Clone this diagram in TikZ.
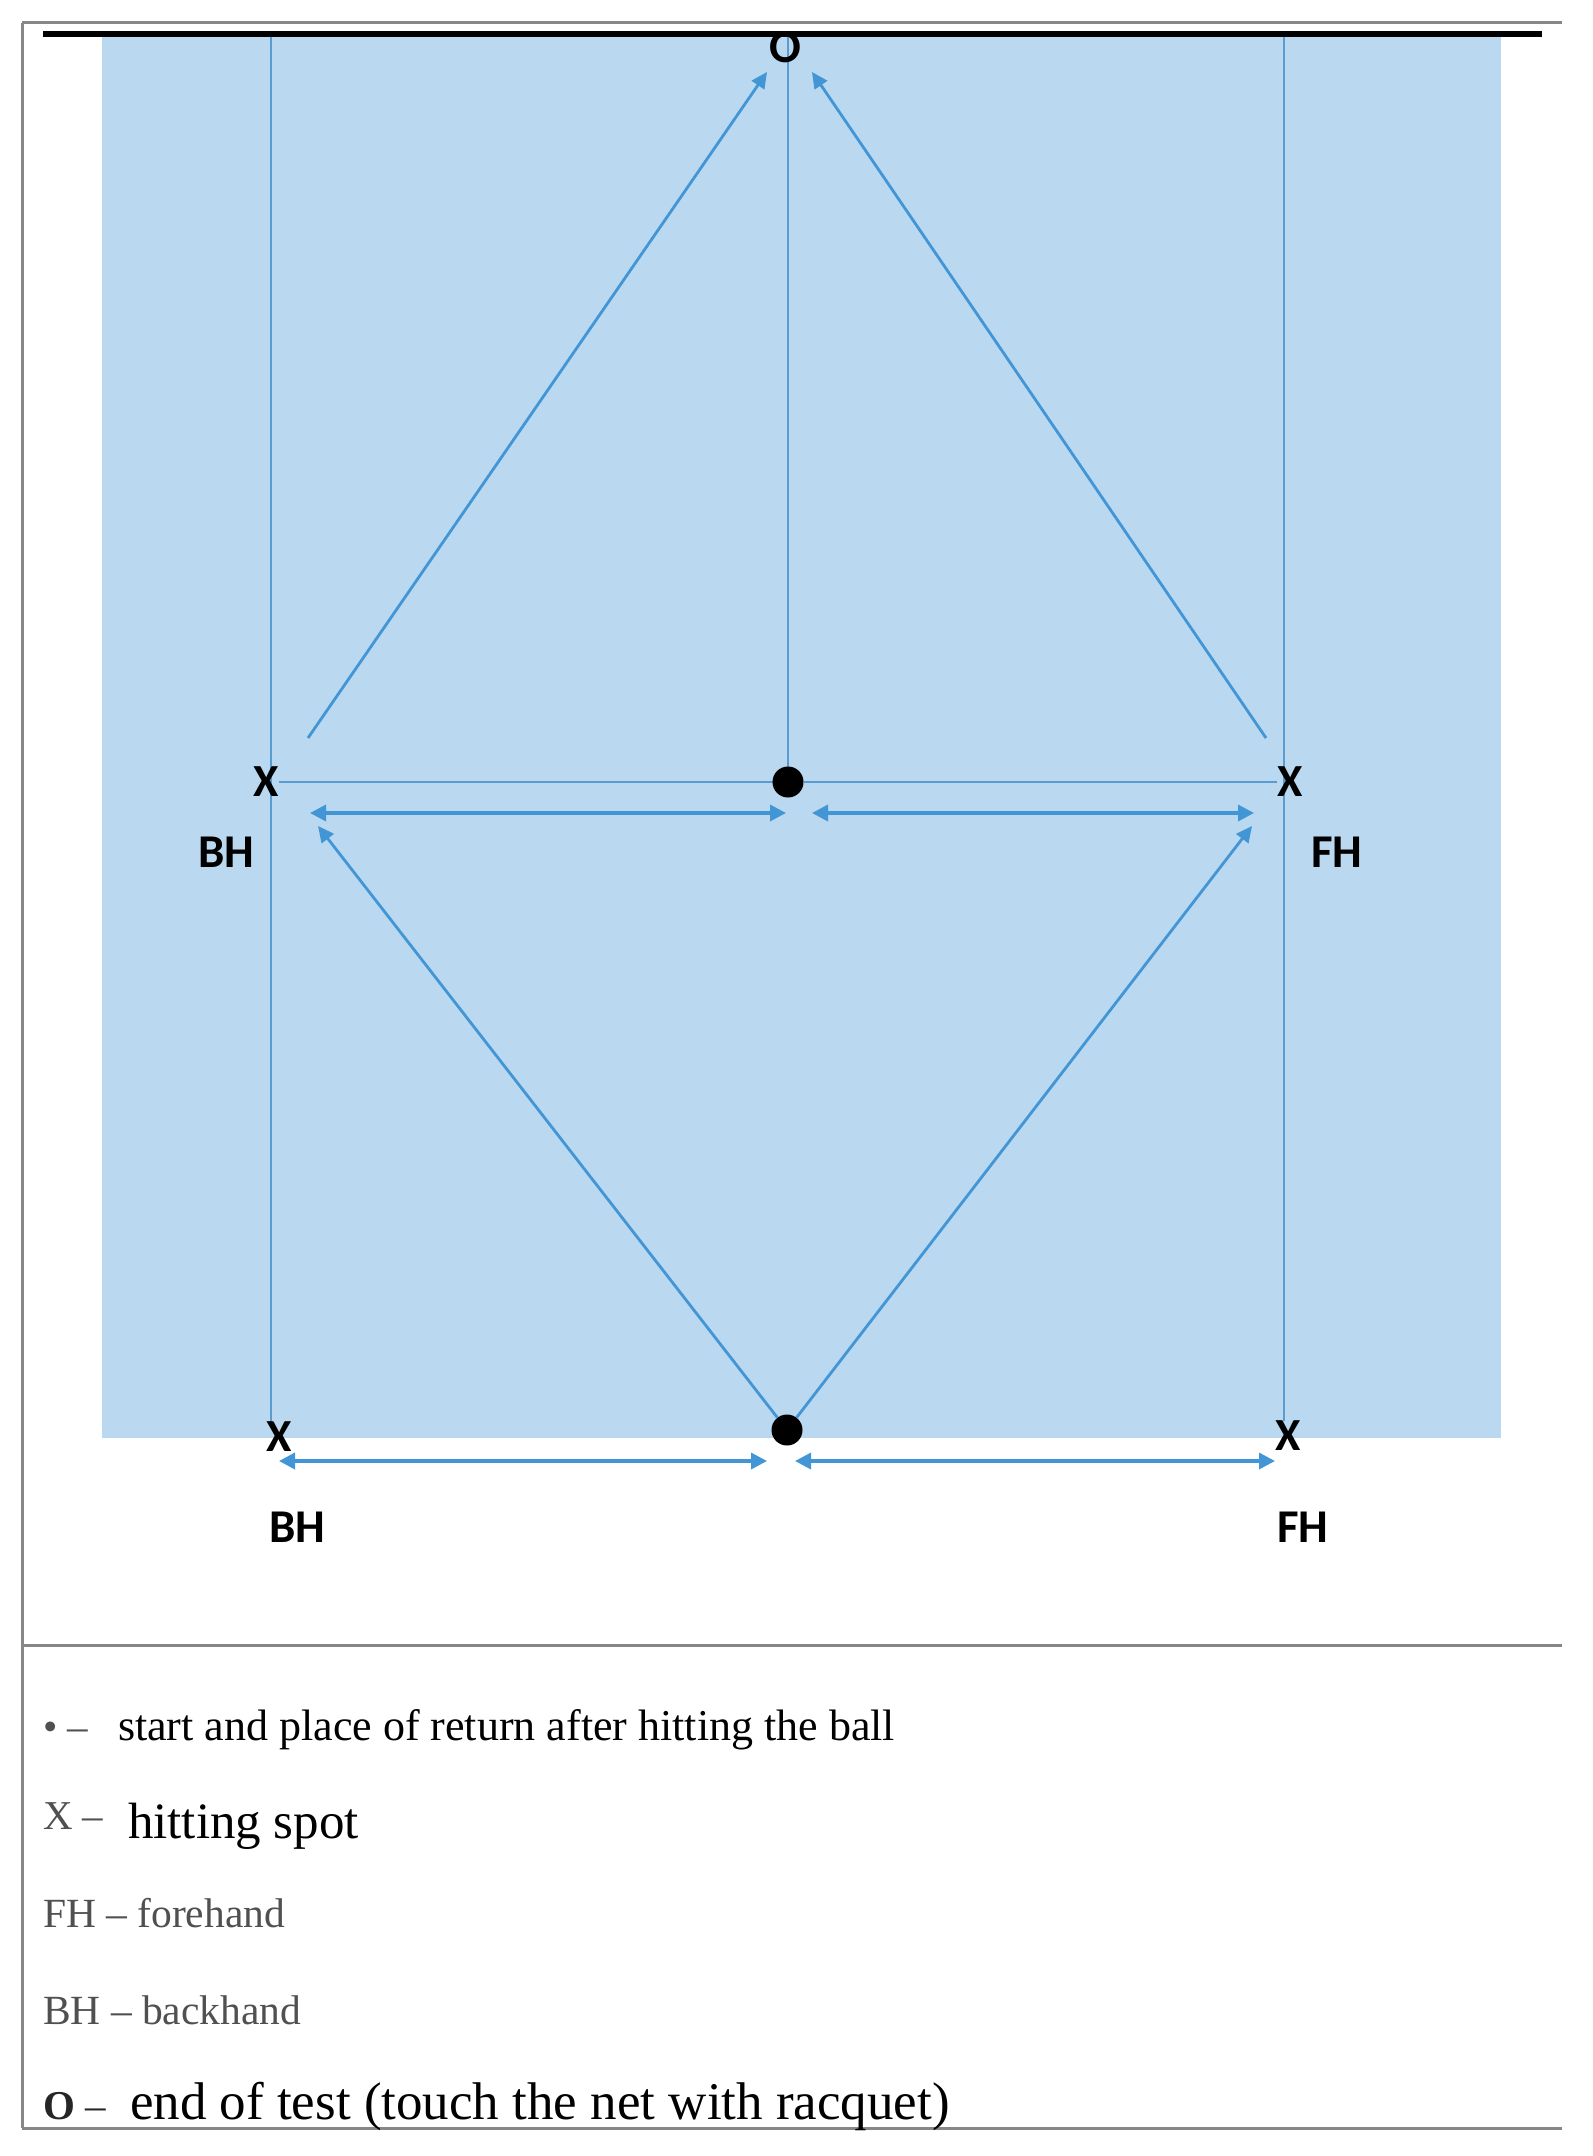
\documentclass[tikz,border=0pt]{standalone}
\usepackage{fontspec}
\setmainfont{Liberation Serif}
\newfontfamily\labelfont{Carlito}
\usetikzlibrary{arrows.meta,positioning,backgrounds}
\definecolor{courtblue}{RGB}{186,216,240}
\definecolor{lineblue}{RGB}{88,156,210}
\definecolor{arrowblue}{RGB}{66,150,214}
\definecolor{framegray}{RGB}{135,135,135}
\definecolor{keygray}{RGB}{80,80,80}

\begin{document}
\begin{tikzpicture}[
    x=0.5pt, y=-0.5pt,
    every node/.style={
        inner sep=0pt, outer sep=0pt,
    },
    lbl/.style={font=\labelfont\bfseries\fontsize{23.5}{28}\selectfont},
    spot/.style={font=\labelfont\bfseries\fontsize{23}{28}\selectfont},
    ball/.style={circle, fill=black, minimum size=15.5pt},
    courtline/.style={draw=lineblue, line width=1.3pt},
    shot/.style={draw=arrowblue, line width=1.4pt, -{Triangle[length=8pt,width=7.5pt]}},
    runs/.style={draw=arrowblue, line width=1.7pt, {Triangle[length=8pt,width=8pt]}-{Triangle[length=8pt,width=8pt]}},
    rule/.style={draw=framegray, line width=1.5pt},
    key/.style={anchor=base west, text=keygray, font=\fontsize{20.5}{24}\selectfont},
    entry/.style={anchor=base west},
]
    \useasboundingbox (0,0) rectangle (1593,2156);

    % frame
    \draw[rule] (22,23) -- (1562,23);
    \draw[rule] (22,23) -- (22,2128);
    \draw[rule] (22,1645) -- (1562,1645);
    \draw[rule] (22,2128) -- (1562,2128);

    % players' spots
    \node[lbl] (endo) at (785,47) {O};
    \node[ball] (dm) at (788,782) {};
    \node[ball] (db) at (787,1430) {};
    \node[spot] (xml) at (266,782) {X};
    \node[spot] (xmr) at (1290,782) {X};
    \node[spot] (xbl) at (279,1437) {X};
    \node[spot] (xbr) at (1288,1436) {X};
    \node[lbl] (bhm) at (226,852) {BH};
    \node[lbl] (fhm) at (1337,852) {FH};
    \node[lbl] (bhb) at (297,1527) {BH};
    \node[lbl] (fhb) at (1303,1527) {FH};

    \coordinate (netl) at (271,37);
    \coordinate (netr) at (1284,37);
    \coordinate (netc) at (788,37);
    \coordinate (ul) at (308,738);
    \coordinate (ult) at (767,72);
    \coordinate (ur) at (1266,738);
    \coordinate (urt) at (812,72);
    \coordinate (ll) at (318,826);
    \coordinate (lr) at (1252,826);

    \begin{scope}[on background layer]
        \fill[white] (0,0) rectangle (1593,2156);
        \fill[courtblue] (102,37) rectangle (1501,1438);
        \draw[courtline] (netl) -- (netl |- xbl.north);
        \draw[courtline] (netr) -- (netr |- xbr.north);
        \draw[courtline] (netc) -- (dm);
        \draw[courtline] (xml.east) -- (dm) -- (xmr.west);
    \end{scope}

    % net
    \draw[line width=3pt] (43,34) -- (1542,34);

    % movements
    \draw[shot] (ul) -- (ult);
    \draw[shot] (ur) -- (urt);
    \draw[shot] (db) -- (ll);
    \draw[shot] (db) -- (lr);
    \draw[runs] (310,813) coordinate (rml) -- (786,813) coordinate (rmm);
    \draw[runs] (812,813) coordinate (rmn) -- (1254,813) coordinate (rmr);
    \draw[runs] (279,1461) coordinate (rbl) -- (767,1461) coordinate (rbm);
    \draw[runs] (795,1461) coordinate (rbn) -- (1275,1461) coordinate (rbr);

    % legend
    \node[key] (k1) at (43,1740) {• –};
    \node[entry, font=\fontsize{22}{26}\selectfont] (t1) at (118,1740) {start and place of return after hitting the ball};
    \node[key] (k2) at (43,1829) {X –};
    \node[entry, font=\fontsize{25.5}{30}\selectfont] (t2) at (128,1838) {hitting spot};
    \node[key, font=\fontsize{20.75}{24}\selectfont] (k3) at (43,1927) {FH – forehand};
    \node[key, font=\fontsize{20.75}{24}\selectfont] (k4) at (43,2024) {BH – backhand};
    \node[key, text=black!85] (k5) at (43,2119) {\textbf{O} –};
    \node[entry, font=\fontsize{26.5}{31}\selectfont] (t5) at (130,2119) {end of test (touch the net with racquet)};
\end{tikzpicture}
\end{document}
